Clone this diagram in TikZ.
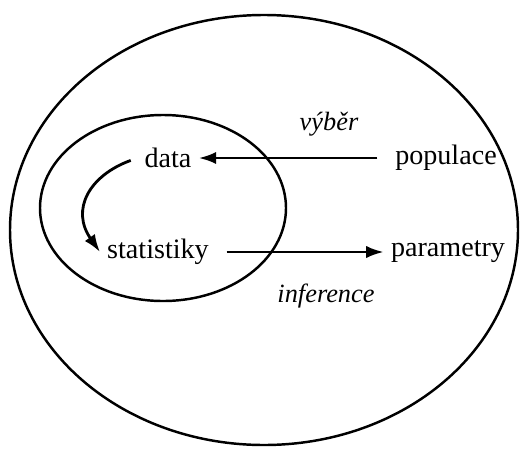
\documentclass[tikz,border=0pt]{standalone}
\usepackage{fontspec}
\setmainfont{Liberation Serif}
\usetikzlibrary{arrows.meta}
\begin{document}
\begin{tikzpicture}[x=0.02cm,y=-0.02cm,>={Latex[length=10pt,width=7pt]},line width=1.6pt,font=\fontsize{16}{19}\selectfont]
\useasboundingbox (0,0) rectangle (523,453);
\draw[line width=1.4pt] (264,230) ellipse [x radius=254,y radius=215];
\draw[line width=1.4pt] (163,208) ellipse [x radius=123,y radius=93];
\node (d) at (168,158) {data};
\node (p) at (446,158) {populace};
\node (s) at (158,252) {statistiky};
\node (m) at (448,252) {parametry};
\node[font=\fontsize{15}{18}\selectfont\itshape] (v) at (329,124) {výběr};
\node[font=\fontsize{15}{18}\selectfont\itshape] (i) at (326,296) {inference};
\draw[->,shorten <=6pt] (p) -- (d);
\draw[->,shorten <=6pt] (s) -- (m);
\draw[->,shorten <=4pt] (d.west) to[out=200,in=125,looseness=1.3] (s.west);
\end{tikzpicture}
\end{document}
